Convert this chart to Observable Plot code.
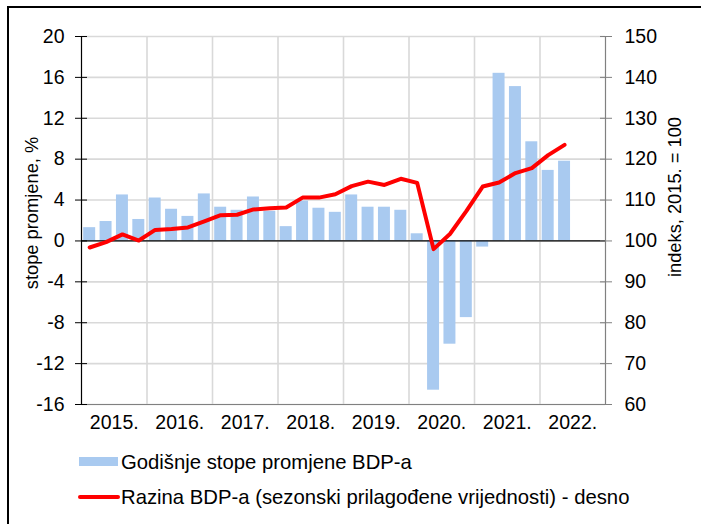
<!DOCTYPE html>
<html>
<head>
<meta charset="utf-8">
<script src="https://cdn.jsdelivr.net/npm/d3@7"></script>
<script src="https://cdn.jsdelivr.net/npm/@observablehq/plot@0.6"></script>
<style>
  html, body { margin: 0; padding: 0; background: #fff; }
  #wrap { position: relative; width: 701px; height: 524px; overflow: hidden; font-family: "Liberation Sans", Arial, sans-serif; color: #000; }
  #frame { position: absolute; left: 7px; top: 6px; width: 900px; height: 700px; border-left: 2px solid #000; border-top: 2px solid #000; }
  #chart { position: absolute; left: 0; top: 0; }
  .ytitle { position: absolute; font-size: 18.3px; white-space: nowrap; transform-origin: center center; }
  .leg { position: absolute; font-size: 20.3px; white-space: nowrap; line-height: 1; }
  .sw { position: absolute; }
</style>
</head>
<body>
<div id="wrap">
  <div id="frame"></div>
  <div id="chart"></div>
</div>
<script>
// Quarterly categories
const quarters = [
  "2015 Q1","2015 Q2","2015 Q3","2015 Q4",
  "2016 Q1","2016 Q2","2016 Q3","2016 Q4",
  "2017 Q1","2017 Q2","2017 Q3","2017 Q4",
  "2018 Q1","2018 Q2","2018 Q3","2018 Q4",
  "2019 Q1","2019 Q2","2019 Q3","2019 Q4",
  "2020 Q1","2020 Q2","2020 Q3","2020 Q4",
  "2021 Q1","2021 Q2","2021 Q3","2021 Q4",
  "2022 Q1","2022 Q2"
];
// Annual growth rates of GDP, % (left axis)
const growth = [
  1.3, 1.9, 4.5, 2.1,
  4.2, 3.1, 2.4, 4.6,
  3.3, 3.0, 4.3, 2.9,
  1.4, 3.9, 3.2, 2.8,
  4.5, 3.3, 3.3, 3.0,
  0.7, -14.6, -10.1, -7.5,
  -0.6, 16.4, 15.1, 9.7,
  6.9, 7.8
];
// GDP level, seasonally adjusted, index 2015 = 100 (right axis)
const level = [
  98.4, 99.7, 101.6, 100.1,
  102.7, 102.9, 103.3, 104.8,
  106.3, 106.4, 107.7, 108.0,
  108.2, 110.6, 110.6, 111.4,
  113.4, 114.5, 113.7, 115.2,
  114.2, 98.0, 101.7, 107.3,
  113.3, 114.3, 116.6, 117.8,
  121.0, 123.5
];
const years = ["2015.","2016.","2017.","2018.","2019.","2020.","2021.","2022."];
const leftTicks = [-16, -12, -8, -4, 0, 4, 8, 12, 16, 20];
const rightTicks = [60, 70, 80, 90, 100, 110, 120, 130, 140, 150];

const titleLeft = "stope promjene, %";
const titleRight = "indeks, 2015. = 100";
const legendBars = "Godišnje stope promjene BDP-a";
const legendLine = "Razina BDP-a (sezonski prilagođene vrijednosti) - desno";

const barColor = "#a9caf0";
const lineColor = "#ff0000";
const gridColor = "#d9d9d9";

const data = quarters.map((q, i) => ({q, i, growth: growth[i], level: level[i]}));
const nSlots = years.length * 4;
const toLeft = r => (r - 100) / 2.5;   // right axis value -> left axis units
const toRight = v => 100 + 2.5 * v;

const chart = Plot.plot({
  width: 701,
  height: 440,
  marginLeft: 81,
  marginRight: 96,
  marginTop: 36,
  marginBottom: 36,
  x: {domain: [0, nSlots]},
  y: {domain: [-16, 20]},
  style: {fontFamily: '"Liberation Sans", Arial, sans-serif', fontSize: "19.5px", color: "#000", background: "transparent", overflow: "visible"},
  marks: [
    Plot.ruleY(leftTicks, {stroke: gridColor, strokeWidth: 1.6}),
    Plot.ruleX(years.map((_, k) => 4 * k).filter(v => v > 0), {stroke: gridColor, strokeWidth: 1.6}),
    Plot.rectY(data, {x1: "i", x2: d => d.i + 1, y: "growth", fill: barColor, insetLeft: 2.2, insetRight: 2.2}),
    Plot.ruleY([0], {stroke: "#000", strokeWidth: 1.2}),
    Plot.ruleY([-16], {stroke: "#808080", strokeWidth: 1.2}),
    Plot.ruleX([0], {stroke: "#000", strokeWidth: 1.2}),
    Plot.ruleX([nSlots], {stroke: "#808080", strokeWidth: 1.2}),
    Plot.axisY({anchor: "left", ticks: leftTicks, tickFormat: d => String(d), tickSize: 12, dx: 6, tickPadding: 11, label: null, stroke: "#000"}),
    Plot.axisY({anchor: "right", ticks: rightTicks.map(toLeft), tickFormat: v => String(Math.round(toRight(v))), tickSize: 12, dx: -6, tickPadding: 13, label: null, stroke: "#808080"}),
    Plot.axisX({ticks: years.map((_, k) => 4 * k + 2), tickFormat: v => years[Math.round((v - 2) / 4)], tickSize: 0, tickPadding: 11, label: null}),
    Plot.line(data, {x: d => d.i + 0.5, y: d => toLeft(d.level), stroke: lineColor, strokeWidth: 4, strokeLinejoin: "round", strokeLinecap: "round"})
  ]
});
document.getElementById("chart").appendChild(chart);

const wrap = document.getElementById("wrap");
function addTitle(text, cx, cy) {
  const el = document.createElement("div");
  el.className = "ytitle";
  el.textContent = text;
  wrap.appendChild(el);
  const w = el.offsetWidth, h = el.offsetHeight;
  el.style.left = (cx - w / 2) + "px";
  el.style.top = (cy - h / 2) + "px";
  el.style.transform = "rotate(-90deg)";
}
addTitle(titleLeft, 32, 213);
addTitle(titleRight, 675, 197);

function addLegend(text, cy, swatchStyle) {
  const sw = document.createElement("div");
  sw.className = "sw";
  Object.assign(sw.style, swatchStyle);
  wrap.appendChild(sw);
  const el = document.createElement("div");
  el.className = "leg";
  el.textContent = text;
  wrap.appendChild(el);
  el.style.left = "121px";
  el.style.top = (cy - el.offsetHeight / 2) + "px";
}
addLegend(legendBars, 462, {left: "79px", top: "457px", width: "39px", height: "9px", background: barColor});
addLegend(legendLine, 497, {left: "78px", top: "495px", width: "42px", height: "4px", background: lineColor, borderRadius: "2px"});
</script>
</body>
</html>
